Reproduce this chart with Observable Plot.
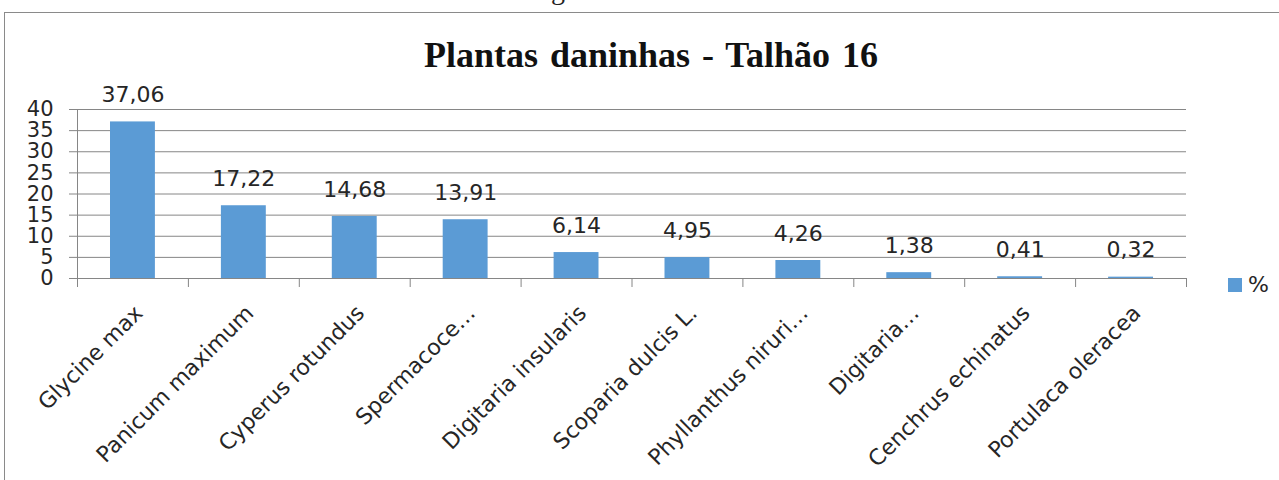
<!DOCTYPE html>
<html>
<head>
<meta charset="utf-8">
<script src="https://cdn.jsdelivr.net/npm/d3@7"></script>
<script src="https://cdn.jsdelivr.net/npm/@observablehq/plot@0.6"></script>
<style>
  html, body { margin: 0; padding: 0; background: #fff; }
  body { width: 1279px; height: 480px; position: relative; overflow: hidden; }
  #frame { position: absolute; left: 4px; top: 12px; width: 1400px; height: 600px; border: 1px solid #8a8a8a; box-sizing: border-box; }
  #frag { position: absolute; left: 551px; top: -26px; font: 28px "Liberation Serif", serif; color: #222; }
  #title { position: absolute; left: 0; top: 37px; width: 1302px; text-align: center; font: bold 36px/36px "Liberation Serif", serif; color: #111; word-spacing: 3px; }
  #chart { position: absolute; left: 0; top: 0; }
  #legend { position: absolute; left: 1228px; top: 272px; font: 22px "DejaVu Sans", sans-serif; color: #262626; display: flex; align-items: center; }
  #legend .sw { width: 14px; height: 14px; background: #5b9bd5; margin-right: 6px; }
</style>
</head>
<body>
<div id="frame"></div>
<div id="frag">g</div>
<div id="chart"></div>
<div id="title">Plantas daninhas - Talhão 16</div>
<div id="legend"><span class="sw"></span><span id="legtext">%</span></div>
<script>
const categories = ["Glycine max", "Panicum maximum", "Cyperus rotundus", "Spermacoce…", "Digitaria insularis", "Scoparia dulcis L.", "Phyllanthus niruri…", "Digitaria…", "Cenchrus echinatus", "Portulaca oleracea"];
const values = [37.06, 17.22, 14.68, 13.91, 6.14, 4.95, 4.26, 1.38, 0.41, 0.32];
const yTicks = [0, 5, 10, 15, 20, 25, 30, 35, 40];
const seriesName = "%";

const fmt = v => d3.format(".2f")(v).replace(".", ",");
const rows = categories.map((c, i) => ({name: c, idx: i, value: values[i], label: fmt(values[i])}));
const boundaries = d3.range(categories.length + 1);

const textColor = "#262626";
const gridColor = "#868686";
const font = "DejaVu Sans, sans-serif";

const chart = Plot.plot({
  width: 1279,
  height: 480,
  marginLeft: 77,
  marginRight: 93,
  marginTop: 109,
  marginBottom: 202,
  style: {fontFamily: font, fontSize: "22px", color: textColor, background: "transparent"},
  x: {type: "linear", domain: [0, categories.length], axis: null},
  y: {domain: [0, 40], axis: null},
  marks: [
    Plot.ruleY(yTicks, {stroke: gridColor, strokeWidth: 1}),
    Plot.rectY(rows, {x1: "idx", x2: d => d.idx + 1, y: "value", insetLeft: 33, insetRight: 33, fill: "#5b9bd5"}),
    Plot.ruleX([0], {y1: 0, y2: 40, stroke: gridColor}),
    Plot.ruleY([0], {stroke: gridColor}),
    Plot.axisY({ticks: yTicks, tickSize: 8, tickPadding: 16, stroke: gridColor, fontSize: 21, fill: textColor, label: null, tickFormat: d => String(d)}),
    Plot.axisX({ticks: boundaries, tickSize: 9, tickFormat: () => "", stroke: gridColor, label: null}),
    Plot.text(rows, {x: d => d.idx + 0.5, y: "value", text: "label", dy: -27, fontSize: 22, fill: textColor}),
    Plot.text(rows, {x: d => d.idx + 0.5, y: 0, text: "name", rotate: -45, textAnchor: "end", dx: 6, dy: 31, fontSize: 22, fill: textColor})
  ]
});
document.getElementById("chart").appendChild(chart);
document.getElementById("legtext").textContent = seriesName;
</script>
</body>
</html>
